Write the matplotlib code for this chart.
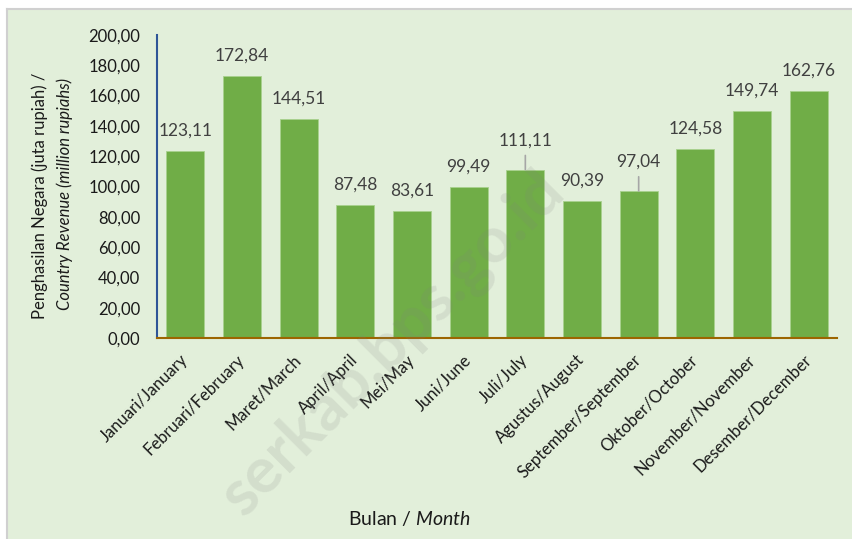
import matplotlib
matplotlib.use("Agg")
import matplotlib.pyplot as plt
from matplotlib.patches import Rectangle
from matplotlib.lines import Line2D

plt.rcParams['font.family'] = ['Lato', 'DejaVu Sans']
plt.rcParams['mathtext.fontset'] = 'custom'
plt.rcParams['mathtext.rm'] = 'Lato'
plt.rcParams['mathtext.it'] = 'Lato:italic'

months = ["Januari/January", "Februari/February", "Maret/March", "April/April",
          "Mei/May", "Juni/June", "Juli/July", "Agustus/August",
          "September/September", "Oktober/October", "November/November",
          "Desember/December"]
revenue = [123.11, 172.84, 144.51, 87.48, 83.61, 99.49, 111.11, 90.39,
           97.04, 124.58, 149.74, 162.76]
yticks = [0, 20, 40, 60, 80, 100, 120, 140, 160, 180, 200]

def fmt(v):
    return f"{v:.2f}".replace(".", ",")

W, H = 852, 539
bg = "#e2efda"
fig = plt.figure(figsize=(W / 100, H / 100), dpi=100)
fig.patch.set_facecolor(bg)
# white strips and grey border on top/left
fig.patches.append(Rectangle((0, 0), 7 / W, 1, transform=fig.transFigure,
                             facecolor="white", edgecolor="none", zorder=-5))
fig.patches.append(Rectangle((0, 1 - 9 / H), 1, 9 / H, transform=fig.transFigure,
                             facecolor="white", edgecolor="none", zorder=-5))
fig.lines.append(Line2D([7 / W, 7 / W], [0, 1 - 9 / H], transform=fig.transFigure,
                        color="#d0d0d0", lw=1.5, zorder=-4))
fig.lines.append(Line2D([7 / W, 1], [1 - 9 / H, 1 - 9 / H], transform=fig.transFigure,
                        color="#d0d0d0", lw=1.5, zorder=-4))

ax = fig.add_axes([157 / W, (H - 338) / H, (837 - 157) / W, (338 - 35) / H])
ax.set_facecolor("none")
x = list(range(len(months)))
ax.bar(x, revenue, width=0.67, color="#70ad47", edgecolor="#a9d18e", linewidth=0.6, zorder=2)
ax.set_xlim(-0.5, len(months) - 0.5)
ax.set_ylim(0, 200)
ax.set_yticks(yticks)
ax.set_yticklabels([fmt(v) for v in yticks], fontsize=12, color="#1a1a1a")
ax.set_xticks(x)
ax.set_xticklabels(months, rotation=45, ha="right", va="center", rotation_mode="anchor",
                   fontsize=12, color="#1a1a1a")
ax.tick_params(axis="y", length=0, pad=12)
ax.tick_params(axis="x", length=0, pad=14)
for s in ["top", "right"]:
    ax.spines[s].set_visible(False)
ax.spines["left"].set_color("#2f5597")
ax.spines["left"].set_linewidth(1.5)
ax.spines["bottom"].set_color("#9c6500")
ax.spines["bottom"].set_linewidth(1.5)
ax.spines["bottom"].set_zorder(3)

for i, v in enumerate(revenue):
    if i in (6, 8):
        ax.annotate(fmt(v), xy=(i, v), xytext=(0, 21), textcoords="offset points",
                    ha="center", va="center", fontsize=12.5, color="#404040",
                    arrowprops=dict(arrowstyle="-", color="#a6a6a6", lw=1.2,
                                    shrinkA=3, shrinkB=0))
    else:
        ax.annotate(fmt(v), xy=(i, v), xytext=(0, 15), textcoords="offset points",
                    ha="center", va="center", fontsize=12.5, color="#404040")

fig.text(40 / W, 1 - 196 / H, "Penghasilan Negara (juta rupiah) /", rotation=90,
         ha="center", va="center", fontsize=12, color="#1a1a1a")
fig.text(65 / W, 1 - 194 / H, "Country Revenue (million rupiahs)", rotation=90,
         ha="center", va="center", fontsize=12, style="italic", color="#1a1a1a")
fig.text(409 / W, 1 - 518 / H, r"Bulan / $\mathit{Month}$", ha="center", va="center",
         fontsize=14, color="#1a1a1a")

# watermark
fig.text(392 / W, 1 - 343 / H, "serkab.bps.go.id", rotation=45, ha="center", va="center",
         fontsize=46, fontweight="bold", color="#7f7f7f", alpha=0.15, zorder=5)

fig.savefig("out.png", dpi=100)
